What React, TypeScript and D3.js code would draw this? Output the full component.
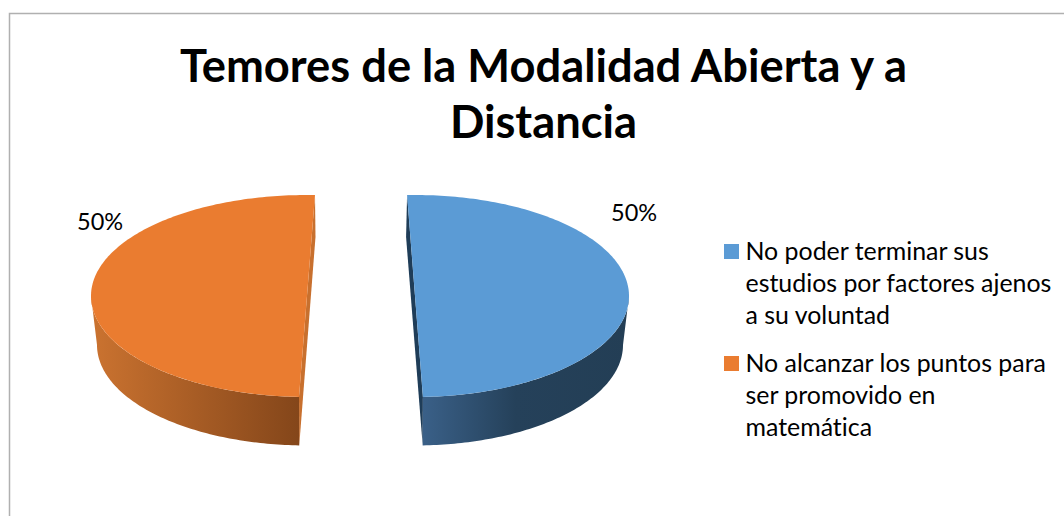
import React from "react";
import * as d3 from "d3";

const titleLines = ["Temores de la Modalidad Abierta y a", "Distancia"];
const categories = [
  ["No poder terminar sus", "estudios por factores ajenos", "a su voluntad"],
  ["No alcanzar los puntos para", "ser promovido en", "matemática"],
];
const values = [50, 50];
const topColors = ["#5B9BD5", "#EA7C30"];
const wallStops = [
  [["0%", "#3A6088"], ["45%", "#25415A"], ["100%", "#233E55"]],
  [["0%", "#CB7330"], ["100%", "#84461A"]],
];
const cutColors = ["#1F3D58", "#C8702E"];
const labelPos = [[611, 221], [77, 230]];

const W = 1064, H = 516;
const FONT = "Lato, Carlito, Calibri, sans-serif";
const midX = 361;
const explode = 54;
const tilt = 0.037;
const topRx = [214, 216];
const bottomRx = [208, 210];
const topE = { cy: 296, ry: 101 };
const bottomE = { cy: 345, ry: 100.5 };

const arcs = d3.pie<number>().sort(null)(values);

function pt(cx: number, rx: number, cy: number, ry: number, a: number): [number, number] {
  return [cx + rx * Math.sin(a), cy - ry * Math.cos(a)];
}

const line = d3.line();

function samples(a0: number, a1: number, n = 90) {
  return d3.range(n + 1).map((i) => a0 + ((a1 - a0) * i) / n);
}

export default function App() {
  return (
    <svg width={W} height={H} style={{ position: "absolute", left: 0, top: 0, background: "#fff", fontVariantLigatures: "none" }}>
      <defs>
        {wallStops.map((stops, i) => (
          <linearGradient key={i} id={`wall${i}`} x1="0" x2="1" y1="0" y2="0">
            {stops.map(([o, c]) => (
              <stop key={o} offset={o} stopColor={c} />
            ))}
          </linearGradient>
        ))}
      </defs>
      <path d={`M9.5,${H} V13.5 H${W}`} fill="none" stroke="#B0B0B0" strokeWidth={1.5} />
      {arcs.map((d, i) => {
        const right = d.startAngle < Math.PI;
        const cx = right ? midX + explode : midX - explode;
        const a0 = right ? d.startAngle - tilt : d.startAngle + tilt;
        const a1 = right ? d.endAngle - tilt : d.endAngle + tilt;
        const frontEnd = right ? a1 : a0;
        const backEnd = right ? a0 : a1;
        const side = right ? Math.PI / 2 : (3 * Math.PI) / 2;
        const topPt = (a: number) => pt(cx, topRx[i], topE.cy, topE.ry, a);
        const botPt = (a: number) => pt(cx, bottomRx[i], bottomE.cy, bottomE.ry, a);
        const wallAngles = samples(side, frontEnd);
        const wall = [
          ...wallAngles.map(topPt),
          ...wallAngles.slice().reverse().map(botPt),
        ];
        const back = topPt(backEnd);
        const cut: [number, number][] = [
          back,
          [back[0] + (right ? -1 : 0.5), back[1] + 42],
          botPt(frontEnd),
          topPt(frontEnd),
        ];
        const face = samples(a0, a1, 180).map(topPt);
        return (
          <g key={i}>
            <path d={line(cut) + "Z"} fill={cutColors[i]} />
            <path d={line(wall) + "Z"} fill={`url(#wall${i})`} />
            <path d={line(face) + "Z"} fill={topColors[i]} />
          </g>
        );
      })}
      {arcs.map((d, i) => (
        <text key={i} x={labelPos[i][0]} y={labelPos[i][1]} fontFamily={FONT} fontSize={23.5} fill="#000">
          {`${d.data}%`}
        </text>
      ))}
      {titleLines.map((t, i) => (
        <text key={t} x={543.5} y={82 + i * 56} textAnchor="middle" fontFamily={FONT} fontWeight={700} fontSize={45.3} fill="#000">
          {t}
        </text>
      ))}
      {categories.map((lines, i) => (
        <g key={i}>
          <rect x={724} y={244 + i * 112} width={15} height={15} fill={topColors[i]} />
          {lines.map((l, j) => (
            <text key={l} x={745.5} y={259.5 + i * 112 + j * 32} fontFamily={FONT} fontSize={24.9} fill="#000">
              {l}
            </text>
          ))}
        </g>
      ))}
    </svg>
  );
}
